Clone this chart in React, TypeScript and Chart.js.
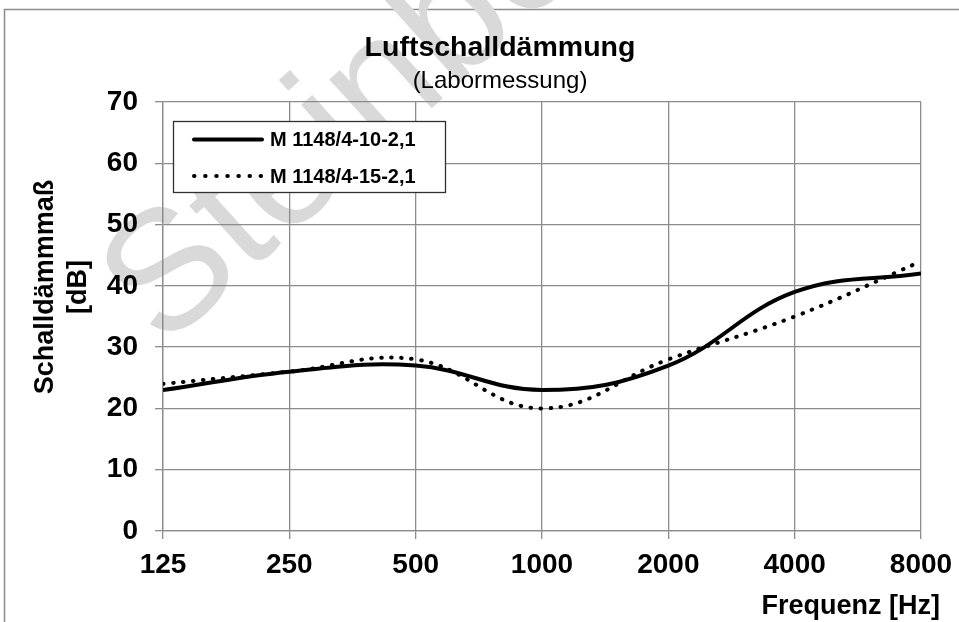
import React, { useEffect, useRef } from "react";
import { Chart, registerables } from "chart.js";

Chart.register(...registerables);

const frequencies = [125, 250, 500, 1000, 2000, 4000, 8000];
const tickLabels = ["125", "250", "500", "1000", "2000", "4000", "8000"];
const seriesA = [23, 26, 27, 23, 27, 39, 42];
const seriesB = [24, 26, 28, 20, 28, 35, 44];
const seriesNames = ["M 1148/4-10-2,1", "M 1148/4-15-2,1"];
const titleText = "Luftschalldämmung";
const subtitleText = "(Labormessung)";
const yTitleLines = ["Schalldämmmaß", "[dB]"];
const xTitleText = "Frequenz [Hz]";
const watermarkText = "Steinbeis";

const FONT = '"Liberation Sans", Arial, sans-serif';
const GRID = "#8c8c8c";

const decorPlugin = {
  id: "decor",
  beforeDraw(chart: any) {
    const ctx = chart.ctx as CanvasRenderingContext2D;
    ctx.save();
    ctx.fillStyle = "#ffffff";
    ctx.fillRect(0, 0, chart.width, chart.height);
    ctx.strokeStyle = GRID;
    ctx.lineWidth = 1.5;
    ctx.beginPath();
    ctx.moveTo(4.5, chart.height);
    ctx.lineTo(4.5, 9.5);
    ctx.lineTo(chart.width, 9.5);
    ctx.stroke();
    // watermark
    ctx.translate(163, 350);
    ctx.rotate((-42 * Math.PI) / 180);
    ctx.font = `170px ${FONT}`;
    ctx.fillStyle = "#d9d9d9";
    ctx.textBaseline = "alphabetic";
    ctx.fillText(watermarkText, 0, 0);
    ctx.restore();
  },
  afterDraw(chart: any) {
    const ctx = chart.ctx as CanvasRenderingContext2D;
    ctx.save();
    ctx.fillStyle = "#000";
    ctx.textAlign = "center";
    ctx.textBaseline = "alphabetic";
    ctx.font = `bold 28.5px ${FONT}`;
    ctx.fillText(titleText, 500, 56);
    ctx.font = `24px ${FONT}`;
    ctx.fillText(subtitleText, 500, 88);

    // y title
    ctx.save();
    ctx.translate(53, 287);
    ctx.rotate(-Math.PI / 2);
    ctx.font = `bold 27px ${FONT}`;
    ctx.fillText(yTitleLines[0], 0, 0);
    ctx.fillText(yTitleLines[1], 0, 33);
    ctx.restore();

    // x title
    ctx.textAlign = "right";
    ctx.font = `bold 27px ${FONT}`;
    ctx.fillText(xTitleText, 940, 614);

    // legend box
    const lx = 173.5, ly = 121.5, lw = 272, lh = 71;
    ctx.fillStyle = "#fff";
    ctx.fillRect(lx, ly, lw, lh);
    ctx.strokeStyle = "#303030";
    ctx.lineWidth = 1.3;
    ctx.strokeRect(lx, ly, lw, lh);
    const rows = [139.5, 176];
    chart.data.datasets.forEach((ds: any, i: number) => {
      const y = rows[i];
      ctx.strokeStyle = "#000";
      ctx.lineWidth = 4;
      ctx.lineCap = "round";
      ctx.setLineDash(i === 1 ? [0.5, 10.6] : []);
      ctx.beginPath();
      ctx.moveTo(194, y);
      ctx.lineTo(262, y);
      ctx.stroke();
      ctx.setLineDash([]);
      ctx.fillStyle = "#000";
      ctx.textAlign = "left";
      ctx.textBaseline = "middle";
      ctx.font = `bold 20px ${FONT}`;
      ctx.fillText(ds.label, 270, y + 1);
    });
    ctx.restore();
  },
};

export default function App() {
  const ref = useRef<HTMLCanvasElement>(null);
  useEffect(() => {
    if (!ref.current) return;
    const chart = new Chart(ref.current, {
      type: "line",
      data: {
        datasets: [
          {
            label: seriesNames[0],
            data: frequencies.map((f, i) => ({ x: f, y: seriesA[i] })),
            borderColor: "#000",
            borderWidth: 4,
            tension: 0.4,
            pointRadius: 0,
            fill: false,
          },
          {
            label: seriesNames[1],
            data: frequencies.map((f, i) => ({ x: f, y: seriesB[i] })),
            borderColor: "#000",
            borderWidth: 4,
            borderDash: [0.5, 9.5],
            borderCapStyle: "round",
            tension: 0.4,
            pointRadius: 0,
            fill: false,
          },
        ],
      },
      options: {
        responsive: false,
        animation: false,
        devicePixelRatio: 1,
        layout: { padding: { left: 0, right: 38, top: 102, bottom: 0 } },
        plugins: {
          legend: { display: false },
          title: { display: false },
          tooltip: { enabled: false },
        },
        scales: {
          x: {
            type: "logarithmic",
            min: 125,
            max: 8000,
            afterBuildTicks: (scale: any) => {
              scale.ticks = frequencies.map((v) => ({ value: v }));
            },
            afterFit: (scale: any) => {
              scale.height = 91;
              scale.paddingLeft = 0;
              scale.paddingRight = 0;
            },
            ticks: {
              autoSkip: false,
              maxRotation: 0,
              color: "#000",
              font: { family: FONT, size: 28, weight: "bold" },
              padding: 9,
              callback: (v: any) => {
                const idx = frequencies.indexOf(Number(v));
                return idx >= 0 ? tickLabels[idx] : "";
              },
            },
            grid: { color: GRID, lineWidth: 1.3, tickLength: 8, tickColor: GRID },
            border: { color: GRID, width: 1.3 },
          },
          y: {
            min: 0,
            max: 70,
            afterFit: (scale: any) => {
              scale.width = 163;
              scale.paddingTop = 0;
              scale.paddingBottom = 0;
            },
            ticks: {
              stepSize: 10,
              color: "#000",
              font: { family: FONT, size: 28, weight: "bold" },
              padding: 17,
            },
            grid: { color: GRID, lineWidth: 1.3, tickLength: 8, tickColor: GRID },
            border: { color: GRID, width: 1.3 },
          },
        },
      },
      plugins: [decorPlugin],
    } as any);
    return () => chart.destroy();
  }, []);
  return (
    <div style={{ position: "fixed", left: 0, top: 0, width: 959, height: 622, background: "#fff" }}>
      <canvas ref={ref} width={959} height={622} style={{ width: 959, height: 622, display: "block" }} />
    </div>
  );
}
